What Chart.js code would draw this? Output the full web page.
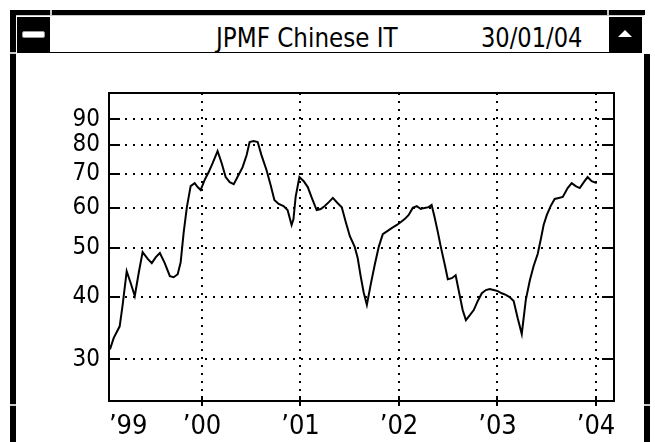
<!DOCTYPE html>
<html>
<head>
<meta charset="utf-8">
<script src="https://cdn.jsdelivr.net/npm/chart.js@4.4.1/dist/chart.umd.min.js"></script>
<style>
  html, body { margin: 0; padding: 0; background: #fff; }
  body { width: 655px; height: 442px; position: relative; overflow: hidden;
         font-family: "Liberation Sans Narrow", "DejaVu Sans Condensed", sans-serif; }
  .blk { position: absolute; background: #000; }
  .gap { position: absolute; background: #c8c8c8; }
  .ttl { position: absolute; font-size: 27px; line-height: 27px; color: #000; white-space: nowrap;
         transform-origin: 0 0; }
  #chart { position: absolute; left: 0; top: 0; }
</style>
</head>
<body>
<!-- window frame -->
<div class="blk" style="left:10px;top:10px;width:635px;height:5px"></div>
<div class="gap" style="left:50px;top:10px;width:2px;height:5px"></div>
<div class="gap" style="left:607px;top:10px;width:2px;height:5px"></div>
<div class="blk" style="left:10px;top:10px;width:6px;height:432px"></div>
<div class="gap" style="left:10px;top:52px;width:6px;height:2px"></div>
<div class="gap" style="left:10px;top:404px;width:6px;height:2px"></div>
<div class="blk" style="left:644px;top:54px;width:6px;height:388px"></div>
<div class="gap" style="left:644px;top:404px;width:6px;height:2px"></div>
<div class="gap" style="left:16px;top:15px;width:628px;height:1px"></div>
<div class="blk" style="left:17px;top:17px;width:33px;height:36px"></div>
<div style="position:absolute;left:22px;top:31px;width:21px;height:5px;background:#fff;border:1px solid #999;border-radius:2px"></div>
<div class="blk" style="left:50px;top:52px;width:559px;height:1px"></div>
<div class="blk" style="left:609px;top:17px;width:33px;height:36px"></div>
<div style="position:absolute;left:618px;top:30px;width:0;height:0;border-left:7px solid transparent;border-right:7px solid transparent;border-bottom:7px solid #fff"></div>
<div class="ttl" style="left:216px;top:24px;transform:scaleX(0.95)">JPMF Chinese IT</div>
<div class="ttl" style="left:481px;top:24px;transform:scaleX(0.93)">30/01/04</div>

<canvas id="chart" width="655" height="442"></canvas>

<script>
// Fund price history (semi-monthly closes)
const dates = [
  "1999-01-25","1999-02-08","1999-03-02","1999-03-13","1999-03-28","1999-04-12","1999-04-27","1999-05-12",
  "1999-05-26","1999-06-14","1999-06-29","1999-07-14","1999-07-29","1999-08-16","1999-09-04","1999-09-18",
  "1999-10-03","1999-10-14","1999-10-25","1999-11-06","1999-11-20","1999-12-05","1999-12-16","1999-12-27",
  "2000-01-11","2000-01-26","2000-02-10","2000-02-28","2000-03-14","2000-03-29","2000-04-13","2000-04-28",
  "2000-05-12","2000-05-31","2000-06-15","2000-06-26","2000-07-11","2000-07-26","2000-08-09","2000-08-28",
  "2000-09-12","2000-09-26","2000-10-12","2000-10-30","2000-11-14","2000-11-29","2000-12-06","2000-12-14",
  "2000-12-28",
  "2001-01-13","2001-01-28","2001-02-12","2001-03-02","2001-03-17","2001-04-01","2001-04-16","2001-05-01",
  "2001-05-19","2001-06-03","2001-06-18","2001-07-03","2001-07-21","2001-08-01","2001-08-12","2001-08-23",
  "2001-09-04","2001-09-18","2001-10-03","2001-10-18","2001-11-02","2001-11-20","2001-12-05","2001-12-24",
  "2002-01-07","2002-01-22","2002-02-06","2002-02-21","2002-03-08","2002-03-23","2002-04-06","2002-04-21",
  "2002-05-02","2002-05-13","2002-05-25","2002-06-05","2002-06-20","2002-07-01","2002-07-16","2002-07-30",
  "2002-08-10","2002-08-25","2002-09-06","2002-09-20","2002-10-05","2002-10-20","2002-11-04","2002-11-19",
  "2002-12-03","2002-12-18",
  "2003-01-02","2003-01-17","2003-02-01","2003-02-15","2003-03-02","2003-03-17","2003-04-01","2003-04-16",
  "2003-05-01","2003-05-15","2003-05-30","2003-06-10","2003-06-21","2003-07-03","2003-07-17","2003-08-01",
  "2003-08-16","2003-08-31","2003-09-18","2003-10-03","2003-10-18","2003-11-02","2003-11-17","2003-12-01",
  "2003-12-16","2004-01-04"
];
const prices = [
  31.4, 33.1, 34.9, 38.5, 44.9, 42.5, 40.1, 44.7,
  49.0, 47.5, 46.6, 47.9, 48.8, 46.6, 43.9, 43.7,
  44.3, 46.8, 53.5, 60.2, 66.3, 67.2, 66.0, 65.1,
  68.2, 70.7, 73.7, 77.8, 73.7, 69.1, 67.5, 66.9,
  69.1, 72.3, 76.4, 81.1, 81.5, 81.1, 76.4, 71.3,
  66.6, 62.2, 61.1, 60.5, 59.4, 55.5, 57.0, 63.1,
  69.1,
  67.8, 66.0, 62.8, 59.4, 59.7, 60.5, 61.6, 62.8,
  61.3, 60.2, 56.2, 52.7, 50.2, 47.7, 43.9, 40.8,
  38.5, 42.2, 46.2, 50.2, 53.2, 54.0, 54.7, 55.5,
  56.2, 57.0, 58.1, 60.0, 60.5, 59.7, 60.0, 60.2,
  60.8, 57.5, 53.7, 50.2, 46.2, 43.3, 43.5, 44.1,
  41.2, 37.6, 35.9, 36.7, 37.6, 39.2, 40.6, 41.2,
  41.4, 41.2,
  41.0, 40.6, 40.3, 39.9, 39.2, 36.2, 33.7, 39.4,
  43.1, 46.0, 48.6, 51.8, 55.5, 58.1, 60.5, 62.5,
  62.8, 63.1, 65.7, 67.2, 66.3, 65.7, 67.5, 69.1,
  67.8, 67.2
];
const priceTicks = [30, 40, 50, 60, 70, 80, 90];
const yearTicks = [1999, 2000, 2001, 2002, 2003, 2004];
const yearLabels = ["\u201999", "\u201900", "\u201901", "\u201902", "\u201903", "\u201904"];

// date string -> fractional year
function toYear(s) {
  const [y, m, d] = s.split('-').map(Number);
  const t0 = Date.UTC(y, 0, 1), t1 = Date.UTC(y + 1, 0, 1);
  return y + (Date.UTC(y, m - 1, d) - t0) / (t1 - t0);
}

const FONT = '"Liberation Sans Narrow", "DejaVu Sans Condensed", sans-serif';
const X_MIN = 1999.056, X_MAX = 2004.183;
// the first year's label sits just inside the left edge of the plot
const firstLabelAt = X_MIN + 0.195;

// plot box plus the short solid tick marks on the axes
const axisMarks = {
  id: 'axisMarks',
  afterDraw(chart) {
    const { ctx, chartArea: a, scales } = chart;
    ctx.save();
    ctx.strokeStyle = '#000';
    ctx.lineWidth = 2;
    ctx.setLineDash([]);
    ctx.strokeRect(a.left, a.top, a.right - a.left, a.bottom - a.top);
    ctx.beginPath();
    scales.y.ticks.forEach(t => {
      const py = Math.round(scales.y.getPixelForValue(t.value));
      ctx.moveTo(a.left, py); ctx.lineTo(a.left + 11, py);
      ctx.moveTo(a.right - 12, py); ctx.lineTo(a.right, py);
    });
    scales.x.ticks.forEach((t, i) => {
      if (i === 0) return;
      const px = Math.round(scales.x.getPixelForValue(t.value));
      ctx.moveTo(px, a.bottom - 5); ctx.lineTo(px, a.bottom + 5);
    });
    ctx.stroke();
    ctx.restore();
  }
};

new Chart(document.getElementById('chart'), {
  type: 'line',
  data: {
    datasets: [{
      data: dates.map((d, i) => ({ x: toYear(d), y: prices[i] })),
      borderColor: '#000',
      borderWidth: 2,
      pointRadius: 0,
      tension: 0,
      fill: false
    }]
  },
  options: {
    responsive: false,
    animation: false,
    devicePixelRatio: 1,
    layout: { padding: { left: 0, right: 41, top: 93, bottom: 0 } },
    plugins: { legend: { display: false }, tooltip: { enabled: false } },
    scales: {
      x: {
        type: 'linear',
        min: X_MIN,
        max: X_MAX,
        afterBuildTicks: s => {
          s.ticks = yearTicks.map((v, i) => ({ value: i === 0 ? firstLabelAt : v }));
        },
        afterFit: s => { s.height = 41; },
        ticks: {
          callback: (v, i) => yearLabels[i],
          font: { family: FONT, size: 27 },
          color: '#000',
          padding: 10,
          maxRotation: 0,
          autoSkip: false
        },
        grid: {
          color: c => (c.index === 0 ? 'rgba(0,0,0,0)' : '#000'),
          lineWidth: 2,
          drawTicks: false
        },
        border: { display: false, dash: [2, 6] }
      },
      y: {
        type: 'logarithmic',
        min: 24.8,
        max: 101.5,
        afterBuildTicks: s => { s.ticks = priceTicks.map(v => ({ value: v })); },
        afterFit: s => { s.width = 109; },
        ticks: {
          callback: v => String(v),
          font: { family: FONT, size: 24 },
          color: '#000',
          padding: 9,
          autoSkip: false
        },
        grid: { color: '#000', lineWidth: 2, drawTicks: false },
        border: { display: false, dash: [2, 6] }
      }
    }
  },
  plugins: [axisMarks]
});
</script>
</body>
</html>
